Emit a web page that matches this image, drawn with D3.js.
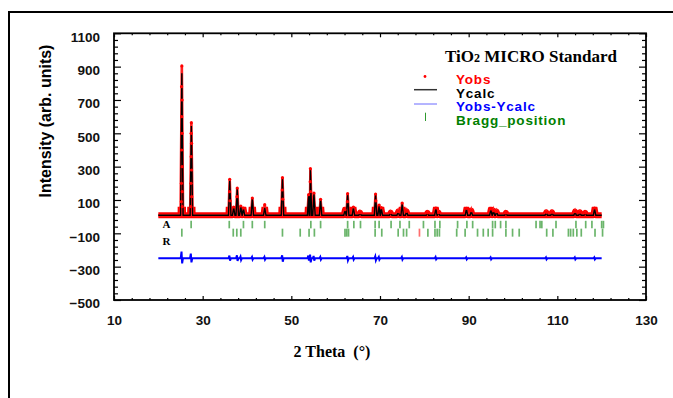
<!DOCTYPE html>
<html>
<head>
<meta charset="utf-8">
<script src="https://cdn.jsdelivr.net/npm/d3@7"></script>
<style>
  body { margin: 0; background: #fff; }
  svg { display: block; }
</style>
</head>
<body>
<svg id="chart" width="673" height="398"></svg>
<script>
// reflections seen in the pattern: 2theta, top of Ycalc, top of Yobs
const peakPos = [25.3, 27.45, 36.1, 37.0, 37.8, 38.6, 39.2, 41.2, 44.0, 48.0,
  53.9, 54.3, 55.1, 56.6, 62.1, 62.7, 64.0, 65.5, 69.0, 69.8,
  70.3, 72.4, 74.1, 75.0, 76.0, 80.7, 82.6, 83.2, 89.5, 90.6,
  95.0, 95.6, 96.3, 98.4, 107.5, 108.8, 114.0, 115.1, 116.3, 118.4];
const calcTop = [860, 544, 215, 55, 165, 62, 48, 108, 52, 228,
  126, 280, 136, 100, 38, 132, 54, 22, 130, 66,
  50, 22, 28, 76, 30, 20, 48, 22, 46, 32,
  42, 32, 28, 20, 24, 24, 28, 24, 20, 46];
const obsTop = [904, 564, 224, 58, 172, 64, 52, 112, 72, 234,
  132, 288, 142, 104, 42, 138, 58, 24, 136, 70,
  54, 24, 30, 82, 32, 22, 52, 24, 50, 36,
  46, 36, 30, 22, 26, 26, 30, 26, 22, 52];
// scattered observed points on the flanks of the stronger peaks
const obsFlank = [[25.24, 780], [25.36, 700], [25.26, 600], [25.34, 500], [25.25, 400],
  [25.35, 300], [25.22, 200], [25.38, 150], [25.2, 90], [25.4, 60],
  [27.4, 500], [27.5, 440], [27.41, 360], [27.49, 280], [27.38, 200], [27.52, 120], [27.36, 60],
  [36.05, 150], [36.15, 95], [37.75, 120], [47.95, 160], [48.05, 105],
  [54.25, 210], [54.35, 150], [62.65, 90], [69.05, 95]];
const background = 8;
const scanStart = 20;
const scanEnd = 120;

// difference curve: flat level with wiggles at the peaks
const diffLevel = -250;
const diffPos = [25.3, 27.4, 36.1, 37.8, 38.6, 41.2, 44.0, 48.0, 53.9, 54.3, 55.1, 56.6,
  62.7, 64.0, 69.0, 69.8, 75.0, 82.6, 89.5, 95.0, 107.5, 114.0, 118.4];
const diffUp = [40, 28, 16, 18, 10, 8, 8, 18, 16, 22, 14, 8, 14, 8, 12, 8, 8, 8, 6, 6, 6, 6, 6];
const diffDown = [30, 24, 14, 16, 10, 8, 8, 20, 14, 24, 14, 8, 12, 8, 12, 8, 8, 6, 6, 6, 6, 6, 6];

// Bragg tick rows
const braggA = [27.4, 36.0, 39.2, 41.2, 44.0, 54.4, 56.6, 62.7, 64.1, 65.6, 68.9, 69.8,
  72.5, 74.5, 76.6, 79.8, 82.4, 83.5, 87.5, 89.6, 90.9, 95.4, 96.0, 97.2, 98.4,
  105.2, 106.1, 106.5, 109.7, 114.2, 116.4, 117.8, 120.0, 120.4];
const braggR = [25.3, 36.9, 37.7, 38.6, 48.0, 52.0, 54.0, 55.2, 62.1, 62.5, 62.9, 68.9, 70.4,
  74.1, 75.3, 76.0, 80.8, 82.4, 82.9, 83.4, 87.3, 89.2, 92.0, 93.3, 94.4, 95.4,
  98.4, 99.9, 101.4, 107.6, 109.0, 112.5, 113.0, 113.6, 114.4, 115.4, 118.5, 120.2];
const braggFlagged = [78.9];

const xTicks = [10, 30, 50, 70, 90, 110, 130];
const yTicks = [1100, 900, 700, 500, 300, 100, -100, -300, -500];

const legendLabels = ['Yobs', 'Ycalc', 'Yobs-Ycalc', 'Bragg_position'];
const legendColors = ['#ff0000', '#000000', '#0000ff', '#008000'];

const svg = d3.select('#chart');
const plot = { left: 114, right: 646, top: 33.3, bottom: 300 };

const x = d3.scaleLinear().domain([10, 130]).range([plot.left, plot.right]);
const y = d3.scaleLinear().domain([-500, 1100]).range([plot.bottom, plot.top]);

// outer frame of the figure
svg.append('path')
  .attr('d', `M9,398 V12 H673`)
  .attr('fill', 'none')
  .attr('stroke', '#000')
  .attr('stroke-width', 2);

// build profile polyline from peak list
function profile(tops) {
  const pts = [[scanStart, background], [scanEnd, background]];
  peakPos.forEach((p, i) => {
    pts.push([p - 0.28, background], [p, tops[i]], [p + 0.28, background]);
  });
  return pts.sort((a, b) => a[0] - b[0]);
}

const line = d3.line().x(d => x(d[0])).y(d => y(d[1]));

// the thick red band only shows near the background level
svg.append('clipPath').attr('id', 'band')
  .append('rect')
  .attr('x', 0).attr('width', 673)
  .attr('y', y(60)).attr('height', y(-30) - y(60));

// Yobs band
svg.append('path')
  .datum(profile(obsTop))
  .attr('clip-path', 'url(#band)')
  .attr('fill', 'none')
  .attr('stroke', '#ff0000')
  .attr('stroke-width', 6)
  .attr('stroke-linejoin', 'round')
  .attr('d', line);

svg.append('path')
  .datum(profile(obsTop))
  .attr('fill', 'none')
  .attr('stroke', '#ff2020')
  .attr('stroke-width', 2.6)
  .attr('d', line);

// Ycalc
svg.append('path')
  .datum(profile(calcTop))
  .attr('fill', 'none')
  .attr('stroke', '#000')
  .attr('stroke-width', 1.4)
  .attr('d', line);

svg.append('g').selectAll('circle')
  .data(peakPos.map((p, i) => [p, obsTop[i]]).concat(obsFlank))
  .join('circle')
  .attr('cx', d => x(d[0]))
  .attr('cy', d => y(d[1]))
  .attr('r', 1.6)
  .attr('fill', '#ff0000');

// difference
const diffPts = [[scanStart, diffLevel], [scanEnd, diffLevel]];
diffPos.forEach((p, i) => {
  diffPts.push([p - 0.25, diffLevel], [p - 0.07, diffLevel + diffUp[i]],
    [p + 0.07, diffLevel - diffDown[i]], [p + 0.25, diffLevel]);
});
diffPts.sort((a, b) => a[0] - b[0]);
svg.append('path')
  .datum(diffPts)
  .attr('fill', 'none')
  .attr('stroke', '#0000ff')
  .attr('stroke-width', 2)
  .attr('d', line);

// Bragg ticks
function braggRow(list, top, bottom, color) {
  svg.append('g').selectAll('line')
    .data(list)
    .join('line')
    .attr('x1', d => x(d)).attr('x2', d => x(d))
    .attr('y1', y(top)).attr('y2', y(bottom))
    .attr('stroke', color)
    .attr('stroke-opacity', 0.7)
    .attr('stroke-width', 1.7);
}
braggRow(braggA, -25, -70, '#2c962c');
braggRow(braggR, -72, -120, '#2c962c');
braggRow(braggFlagged, -72, -120, '#ff3030');

const phaseFont = '"Liberation Serif", "Times New Roman", serif';
svg.append('text').attr('x', 166.5).attr('y', 227.7).attr('text-anchor', 'middle')
  .style('font', `bold 11px ${phaseFont}`).text('A');
svg.append('text').attr('x', 166.5).attr('y', 244.5).attr('text-anchor', 'middle')
  .style('font', `bold 11px ${phaseFont}`).text('R');

// plot border
svg.append('rect')
  .attr('x', plot.left).attr('y', plot.top)
  .attr('width', plot.right - plot.left).attr('height', plot.bottom - plot.top)
  .attr('fill', 'none')
  .attr('stroke', '#000')
  .attr('stroke-width', 1.8);

// axes
const sansFont = '"Liberation Sans", Arial, sans-serif';
const xMinor = d3.range(14, 130, 4).filter(v => (v - 10) % 20 !== 0);
const yMinor = d3.range(-460, 1100, 40).filter(v => (v + 500) % 200 !== 0);

function axis(gen, translate, values, size, labels) {
  const g = svg.append('g')
    .attr('transform', translate)
    .call(gen.tickValues(values).tickSizeInner(size).tickSizeOuter(0)
      .tickFormat(labels ? d3.format('d') : ''));
  g.select('.domain').remove();
  g.selectAll('.tick line').attr('stroke', '#000').attr('stroke-width', 1.2);
  return g;
}

const gx = axis(d3.axisBottom(x).tickPadding(15), `translate(0,${plot.bottom})`, xTicks, -4, true);
axis(d3.axisBottom(x), `translate(0,${plot.bottom})`, xMinor, -2, false);
axis(d3.axisTop(x), `translate(0,${plot.top})`, xTicks, -4, false);
axis(d3.axisTop(x), `translate(0,${plot.top})`, xMinor, -2, false);

const gy = axis(d3.axisLeft(y).tickPadding(14), `translate(${plot.left},0)`, yTicks, -7, true);
axis(d3.axisLeft(y), `translate(${plot.left},0)`, yMinor, -4, false);
axis(d3.axisRight(y), `translate(${plot.right},0)`, yTicks, -7, false);
axis(d3.axisRight(y), `translate(${plot.right},0)`, yMinor, -4, false);

gx.selectAll('text').style('font', `bold 13.5px ${sansFont}`).attr('fill', '#111');
gy.selectAll('text').style('font', `bold 13.5px ${sansFont}`).attr('fill', '#111').attr('dy', '0.57em');

// axis titles
svg.append('text')
  .attr('transform', `translate(51,121) rotate(-90)`)
  .attr('text-anchor', 'middle')
  .style('font', `bold 16px ${sansFont}`)
  .text('Intensity (arb. units)');

svg.append('text')
  .attr('x', 332).attr('y', 357)
  .attr('text-anchor', 'middle')
  .style('font', `bold 16px ${phaseFont}`)
  .style('white-space', 'pre')
  .text('2 Theta  (°)');

// title
const title = svg.append('text')
  .attr('x', 445).attr('y', 61.5)
  .style('font', `bold 17px ${phaseFont}`);
title.append('tspan').text('TiO');
title.append('tspan').style('font-size', '12px').text('2');
title.append('tspan').text(' MICRO Standard');

// legend
const legendBase = [84.3, 97.8, 111.3, 124.8];
const legend = svg.append('g');
legend.selectAll('text')
  .data(legendLabels)
  .join('text')
  .attr('x', 456)
  .attr('y', (d, i) => legendBase[i])
  .attr('fill', (d, i) => legendColors[i])
  .style('font', `bold 13.5px ${sansFont}`)
  .style('letter-spacing', '0.8px')
  .text(d => d);

legend.append('circle').attr('cx', 425).attr('cy', 76.5).attr('r', 1.4).attr('fill', legendColors[0]);
legend.append('line').attr('x1', 414).attr('x2', 437).attr('y1', 89.7).attr('y2', 89.7)
  .attr('stroke', '#333').attr('stroke-width', 1.5);
legend.append('line').attr('x1', 414).attr('x2', 437).attr('y1', 104).attr('y2', 104)
  .attr('stroke', '#6a6aff').attr('stroke-width', 1);
legend.append('line').attr('x1', 425.5).attr('x2', 425.5).attr('y1', 112.7).attr('y2', 121)
  .attr('stroke', '#2e9a2e').attr('stroke-width', 1);
</script>
</body>
</html>
